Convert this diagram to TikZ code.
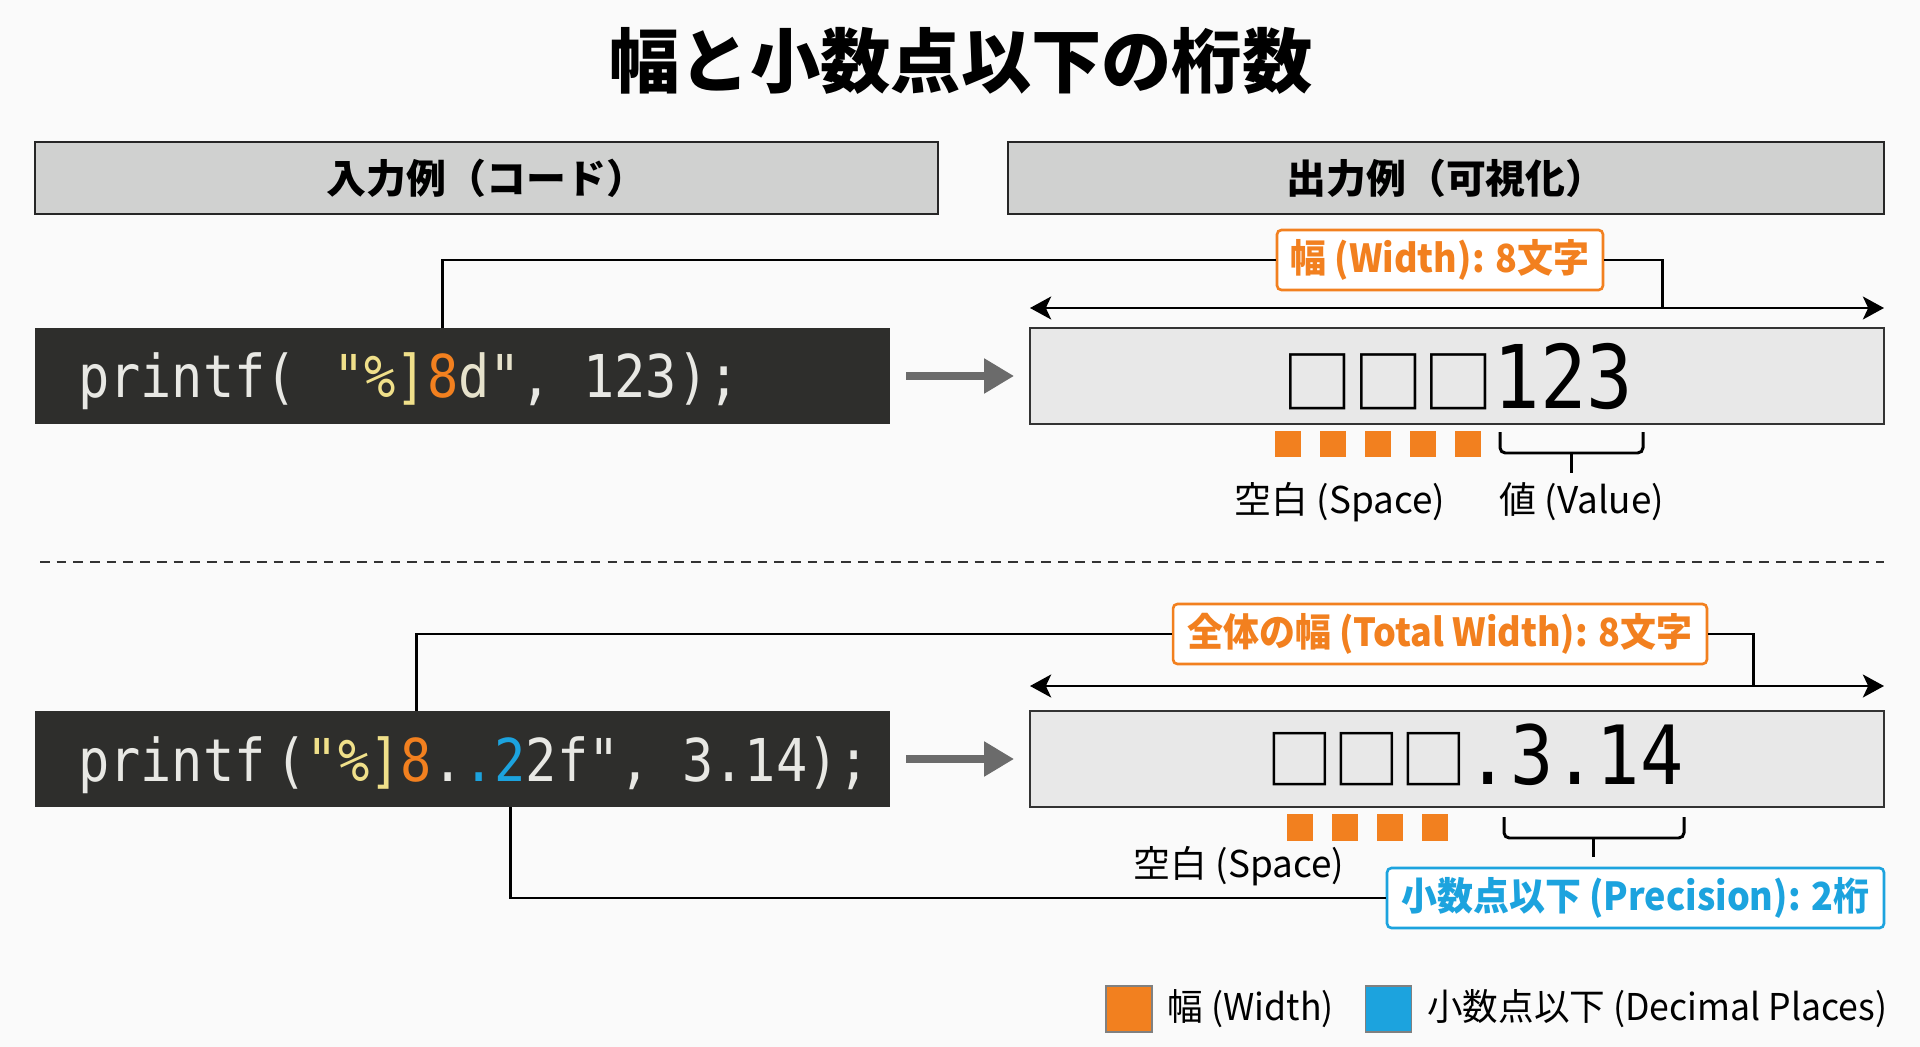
\documentclass[tikz,border=0pt]{standalone}
\usepackage{fontspec}
\setmainfont{Noto Sans CJK JP}
\newfontfamily\codefont{DejaVu Sans Mono}[FakeStretch=0.88]
\newfontfamily\sqfont{Noto Sans CJK JP}
\newfontfamily\tagfont{Noto Sans CJK JP}[FakeStretch=0.93]
\newfontfamily\legfont{Noto Sans CJK JP}[FakeStretch=0.965]
\usetikzlibrary{arrows.meta,positioning}

\definecolor{wdorange}{HTML}{F2801F}
\definecolor{pcblue}{HTML}{1CA3DE}
\definecolor{codebg}{HTML}{2E2E2C}
\definecolor{codefg}{HTML}{E8E8E4}
\definecolor{codeyel}{HTML}{F0E08A}
\definecolor{codecream}{HTML}{E6E2CC}
\definecolor{headbg}{HTML}{D0D1D0}
\definecolor{outbg}{HTML}{E8E8E8}
\definecolor{pagebg}{HTML}{FAFAFA}

\tikzset{
  headbox/.style={draw=black!85, line width=1.2pt, fill=headbg, minimum height=1.44cm,
    font=\fontsize{22.7pt}{27pt}\selectfont\bfseries},
  codebox/.style={fill=codebg, minimum width=17.1cm, minimum height=1.92cm},
  outbox/.style={draw=black!80, line width=1.1pt, fill=outbg, minimum width=17.08cm, minimum height=1.92cm},
  codetxt/.style={font=\codefont\fontsize{33.6pt}{40pt}\selectfont, text=codefg, inner sep=0pt, outer sep=0pt},
  valtxt/.style={font=\codefont\fontsize{46.5pt}{54pt}\selectfont, inner sep=0pt},
  tag/.style={draw=#1, text=#1, line width=1.5pt, rounded corners=2.5pt, fill=white, minimum height=1.2cm,
    font=\tagfont\fontsize{22pt}{26pt}\selectfont\bfseries},
  note/.style={font=\fontsize{21pt}{25pt}\selectfont, inner sep=0pt},
  legtxt/.style={font=\legfont\fontsize{21pt}{25pt}\selectfont, inner sep=0pt},
  link/.style={line width=1.7pt, black},
  grayarrow/.style={line width=4pt, black!58, -{Triangle[length=17pt,width=19pt]}},
  measure/.style={line width=1.7pt, {Stealth[length=12pt,width=13pt,inset=3pt]}-{Stealth[length=12pt,width=13pt,inset=3pt]}},
  brace/.style={line width=1.7pt, rounded corners=3pt},
  legsq/.style={draw=black!50, line width=0.6pt, minimum size=0.92cm, inner sep=0pt}
}

\begin{document}
\begin{tikzpicture}[x=0.02cm, y=-0.02cm]
\fill[pagebg] (0,0) rectangle (1920,1047);
\useasboundingbox (0,0) rectangle (1920,1047);

\node[font=\fontsize{40pt}{48pt}\selectfont\bfseries] (title) at (961,61) {幅と小数点以下の桁数};

\node[headbox, minimum width=18.06cm] (inhead) at (486.5,178) {入力例（コード）};
\node[headbox, minimum width=17.52cm] (outhead) at (1446,178) {出力例（可視化）};

% %8d
\node[codebox] (code1) at (462.5,376) {};
\node[codetxt, anchor=base west] (code1a) at (78,398) {printf(\hspace{0.1cm} \textcolor{codeyel}{"\%]}};
\node[codetxt, anchor=base west, text=wdorange] (code1w) at (code1a.base east) {8};
\node[codetxt, anchor=base west, text=codecream] (code1b) at (code1w.base east) {d"\textcolor{codefg}{, 123);}};

\node[outbox] (out1) at (1457,376) {};
\node[valtxt, anchor=base] (val1) at (1458,408) {{\sqfont\fontsize{40pt}{48pt}\selectfont □□□}\fontsize{50pt}{58pt}\selectfont 123};
\draw[grayarrow] (code1.east) ++(16,0) coordinate (ga1) -- (out1.west -| 1014,0);

\coordinate (w1l) at (1030,308);
\coordinate (w1r) at (1884,308);
\coordinate (w1k) at (1662,308);
\draw[measure] (w1l) -- (w1r);
\node[tag=wdorange, minimum width=6.52cm] (lbl1) at (1440,260) {幅 (Width): 8文字};
\draw[link] (code1w |- code1.north) |- (lbl1.west);
\draw[link] (lbl1.east) -| (w1k);

\foreach \i in {0,...,4}
  \fill[wdorange] (1275+45*\i,431) rectangle ++(26,26);
\draw[brace] (1500,432) -- (1500,453) -- (1643,453) -- (1643,432);
\draw[line width=1.7pt] (1571,453) -- (1571,473);
\node[note] (sp1) at (1340,502) {空白 (Space)};
\node[note] (va1) at (1582,502) {値 (Value)};

\draw[line width=1.2pt, black!80, dash pattern=on 5.5pt off 4pt] (40,562) -- (1884,562);

% %8.2f
\node[codebox] (code2) at (462.5,759) {};
\node[codetxt, anchor=base west] (code2a) at (78,781) {printf\hspace{0.2cm}(\textcolor{codeyel}{"\%]}};
\node[codetxt, anchor=base west, text=wdorange] (code2w) at (code2a.base east) {8};
\node[codetxt, anchor=base west] (code2b) at (code2w.base east) {.\textcolor{pcblue}{.}};
\node[codetxt, anchor=base west, text=pcblue] (code2p) at (code2b.base east) {2};
\node[codetxt, anchor=base west] (code2c) at (code2p.base east) {2f", 3.14);};

\node[outbox] (out2) at (1457,759) {};
\node[valtxt, anchor=base] (val2) at (1475,784) {{\sqfont\fontsize{38pt}{46pt}\selectfont □□□}.3.14};
\draw[grayarrow] (code2.east) ++(16,0) coordinate (ga2) -- (out2.west -| 1014,0);

\coordinate (w2l) at (1030,686);
\coordinate (w2r) at (1884,686);
\coordinate (w2k) at (1753,686);
\draw[measure] (w2l) -- (w2r);
\node[tag=wdorange, minimum width=10.68cm] (lbl2) at (1440,634) {全体の幅 (Total Width): 8文字};
\draw[link] (code2w |- code2.north) |- (lbl2.west);
\draw[link] (lbl2.east) -| (w2k);

\foreach \i in {0,...,3}
  \fill[wdorange] (1287+45*\i,814) rectangle ++(26,27);
\draw[brace] (1504,817) -- (1504,838) -- (1684,838) -- (1684,817);
\draw[line width=1.7pt] (1593,838) -- (1593,857);
\node[note] (sp2) at (1239,866) {空白 (Space)};

\node[tag=pcblue, minimum width=9.94cm] (lbl3) at (1635.5,898) {小数点以下 (Precision): 2桁};
\draw[link] (code2p |- code2.south) |- (lbl3.west);

% legend
\node[legsq, fill=wdorange] (leg1) at (1129,1009) {};
\node[legtxt, right=0.3cm of leg1] (leg1t) {幅 (Width)};
\node[legsq, fill=pcblue] (leg2) at (1388.5,1009) {};
\node[legtxt, right=0.3cm of leg2] (leg2t) {小数点以下 (Decimal Places)};

\end{tikzpicture}
\end{document}
